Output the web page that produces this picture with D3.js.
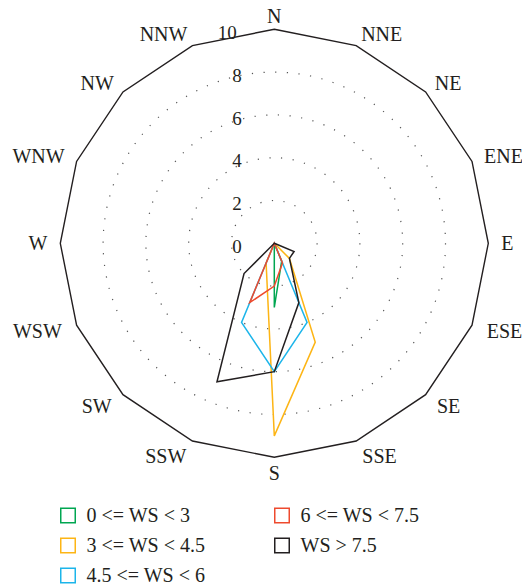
<!DOCTYPE html>
<html><head><meta charset="utf-8">
<script src="https://cdn.jsdelivr.net/npm/d3@7"></script>
<style>
body{margin:0;background:#fff}svg{display:block}
svg text{font-family:"Liberation Serif","Times New Roman","DejaVu Serif",serif;fill:#231f20}
</style>
</head><body><svg id="chart" width="522" height="588"></svg>
<script>
// ---- data ----
const directions = ["N","NNE","NE","ENE","E","ESE","SE","SSE","S","SSW","SW","WSW","W","WNW","NW","NNW"];
const radialTicks = [0, 2, 4, 6, 8, 10];
const seriesNames = ["0 <= WS < 3", "3 <= WS < 4.5", "4.5 <= WS < 6", "6 <= WS < 7.5", "WS > 7.5"];
const ws0to3   = [0, 0, 0, 0, 0, 0,   0,   0.9, 3.0, 0,   0,   0, 0, 0, 0, 0];
const ws3to45  = [0, 0, 0, 0, 0, 0,   1.0, 5.0, 9.0, 1.0, 0,   0, 0, 0, 0, 0];
const ws45to6  = [0, 0, 0, 0, 0, 0,   0,   4.0, 6.0, 4.0, 0,   0, 0, 0, 0, 0];
const ws6to75  = [0, 0, 0, 0, 0, 0,   0,   1.0, 2.0, 3.0, 0,   0, 0, 0, 0, 0];
const wsOver75 = [0, 0, 0, 0, 0, 1.0, 1.0, 3.0, 6.0, 7.0, 2.0, 0, 0, 0, 0, 0];
const seriesColors = ["#00a651", "#fdb515", "#1cb5ea", "#ee4a2e", "#231f20"];

// ---- layout ----
const cx = 274.3, cy = 243.3, R = 214;
const svg = d3.select("#chart");

const rScale = d3.scaleLinear().domain([0, 10]).range([0, R]);
const aScale = d3.scalePoint().domain(directions).range([0, 2 * Math.PI * (directions.length - 1) / directions.length]);

const g = svg.append("g").attr("transform", `translate(${cx},${cy})`);

// dotted circles
g.selectAll("circle.grid").data(radialTicks.filter(v => v > 0 && v < 10)).join("circle")
  .attr("class", "grid")
  .attr("r", d => rScale(d))
  .attr("fill", "none")
  .attr("stroke", "#555")
  .attr("stroke-width", 1.2)
  .attr("stroke-dasharray", "1.2 10.5");

// outer polygon
const outerLine = d3.lineRadial()
  .angle(d => aScale(d))
  .radius(() => rScale(10))
  .curve(d3.curveLinearClosed);
g.append("path").attr("d", outerLine(directions))
  .attr("fill", "none").attr("stroke", "#231f20").attr("stroke-width", 1.4);

// radial tick labels
g.selectAll("text.tick").data(radialTicks).join("text")
  .attr("class", "tick")
  .attr("x", d => -32.5 - (d === d3.max(radialTicks) ? 5 : 0))
  .attr("y", d => -rScale(d) + 9.6)
  .attr("text-anchor", "end")
  .attr("font-size", 19)
  .text(d => d);

// direction labels
const labR = 227;
g.selectAll("text.dir").data(directions).join("text")
  .attr("class", "dir")
  .each(function (d) {
    const a = aScale(d);
    const s = Math.sin(a), c = Math.cos(a);
    const rr = labR + (c < -0.1 ? 3 : 0);
    d3.select(this)
      .attr("x", rr * s)
      .attr("y", -rr * c)
      .attr("dy", "0.35em")
      .attr("text-anchor", Math.abs(s) < 0.01 ? "middle" : (s > 0 ? "start" : "end"));
  })
  .attr("font-size", 20)
  .text(d => d);

// series
const seriesData = [ws0to3, ws3to45, ws45to6, ws6to75, wsOver75];
const radar = d3.lineRadial()
  .angle((d, i) => aScale(directions[i]))
  .radius(d => rScale(d))
  .curve(d3.curveLinearClosed);
g.selectAll("path.series").data(seriesData).join("path")
  .attr("class", "series")
  .attr("d", d => radar(d))
  .attr("fill", "none")
  .attr("stroke", (d, i) => seriesColors[i])
  .attr("stroke-width", 1.5)
  .attr("stroke-linejoin", "miter");

// legend
const colX = [60, 274];
const rowY = d3.scaleLinear().domain([0, 2]).range([515.5, 575.5]);
const leg = svg.append("g");
const items = seriesNames.map((name, i) => ({ name, i, col: Math.floor(i / 3), row: i % 3 }));
const li = leg.selectAll("g").data(items).join("g")
  .attr("transform", d => `translate(${colX[d.col]},${rowY(d.row)})`);
li.append("rect")
  .attr("x", 0.75).attr("y", -7.25).attr("width", 14.5).attr("height", 14.5)
  .attr("fill", "none")
  .attr("stroke", d => seriesColors[d.i])
  .attr("stroke-width", 1.5);
li.append("text")
  .attr("x", 26.5).attr("y", 0).attr("dy", "0.34em")
  .attr("font-size", 20)
  .text(d => d.name);
</script>
</body></html>
